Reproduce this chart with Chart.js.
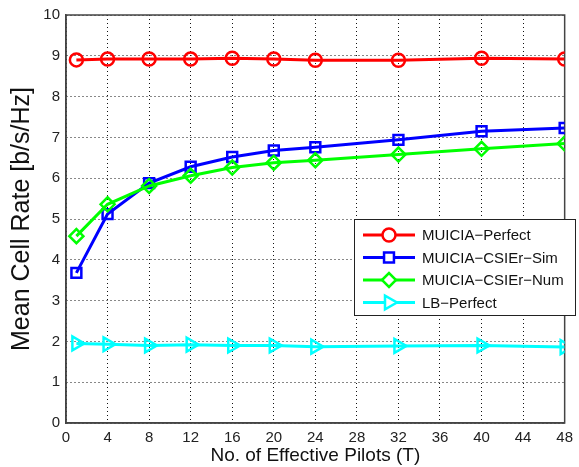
<!DOCTYPE html>
<html>
<head>
<meta charset="utf-8">
<script src="https://cdn.jsdelivr.net/npm/chart.js@4.4.1/dist/chart.umd.min.js"></script>
<style>
  html, body { margin: 0; padding: 0; background: #fff; }
  #wrap { width: 579px; height: 467px; }
</style>
</head>
<body>
<div id="wrap"><canvas id="myChart" width="579" height="467"></canvas></div>
<script>
const pilots = [1, 4, 8, 12, 16, 20, 24, 32, 40, 48];
const perfect = [8.9, 8.92, 8.92, 8.92, 8.94, 8.92, 8.89, 8.89, 8.94, 8.92];
const csiSim = [3.68, 5.12, 5.88, 6.28, 6.52, 6.68, 6.76, 6.94, 7.15, 7.23];
const csiNum = [4.58, 5.36, 5.81, 6.06, 6.26, 6.38, 6.44, 6.58, 6.72, 6.85];
const lbPerfect = [1.95, 1.93, 1.9, 1.92, 1.9, 1.9, 1.87, 1.89, 1.9, 1.86];
const xTicks = [0, 4, 8, 12, 16, 20, 24, 28, 32, 36, 40, 44, 48];

const seriesNames = ["MUICIA\u2212Perfect", "MUICIA\u2212CSIEr\u2212Sim", "MUICIA\u2212CSIEr\u2212Num", "LB\u2212Perfect"];
const seriesColors = ["#ff0000", "#0000ff", "#00ff00", "#00ffff"];
const seriesShapes = ["circle", "rect", "rectRot", "triangle"];
const seriesRot = [0, 0, 0, 90];
const seriesSize = [6.5, 7, 7, 8];
const seriesData = [perfect, csiSim, csiNum, lbPerfect];

const FONT = "'Liberation Sans', Arial, sans-serif";
const ctx = document.getElementById("myChart");

// full box round the plot (top + right edges)
const plotBox = {
  id: "plotBox",
  beforeDatasetsDraw(chart) {
    const a = chart.chartArea, c = chart.ctx;
    c.save();
    c.strokeStyle = "#444";
    c.lineWidth = 1.5;
    c.strokeRect(a.left, a.top, a.right - a.left, a.bottom - a.top);
    c.restore();
  }
};

// legend drawn inside the plot like the matlab figure
const boxLegend = {
  id: "boxLegend",
  afterDraw(chart) {
    const c = chart.ctx;
    const x0 = 354, y0 = 219, w = 221, h = 96;
    c.save();
    c.fillStyle = "#fff";
    c.fillRect(x0, y0, w, h);
    c.strokeStyle = "#222";
    c.lineWidth = 1;
    c.strokeRect(x0 + 0.5, y0 + 0.5, w, h);
    c.font = "15px " + FONT;
    c.textBaseline = "middle";
    for (let i = 0; i < seriesNames.length; i++) {
      const y = 235 + i * 22.5;
      c.strokeStyle = seriesColors[i];
      c.lineWidth = 3;
      c.beginPath();
      c.moveTo(363, y);
      c.lineTo(415, y);
      c.stroke();
      c.lineWidth = 2.5;
      c.fillStyle = "#fff";
      Chart.helpers.drawPoint(c, {pointStyle: seriesShapes[i], radius: seriesSize[i], rotation: seriesRot[i], borderWidth: 2.5}, 389, y);
      c.fillStyle = "#111";
      c.fillText(seriesNames[i], 422, y + 1);
    }
    c.restore();
  }
};

const datasets = seriesData.map((vals, i) => ({
  label: seriesNames[i],
  data: pilots.map((p, k) => ({x: p, y: vals[k]})),
  borderColor: seriesColors[i],
  backgroundColor: "rgba(255,255,255,0)",
  borderWidth: 3,
  pointStyle: seriesShapes[i],
  pointRotation: seriesRot[i],
  pointRadius: seriesSize[i],
  pointBorderWidth: 2.5,
  pointBorderColor: seriesColors[i],
  pointBackgroundColor: "rgba(255,255,255,0)",
  tension: 0,
  fill: false,
  order: 4 - i,
}));

const newChart = new Chart(ctx, {
  type: "line",
  data: { datasets: datasets },
  options: {
    responsive: false,
    animation: false,
    layout: { padding: { left: 0, right: 11, top: 13, bottom: 0 } },
    plugins: {
      legend: { display: false },
      tooltip: { enabled: false },
    },
    scales: {
      x: {
        type: "linear",
        min: 0,
        max: 48,
        afterBuildTicks: (s) => { s.ticks = xTicks.map(v => ({value: v})); },
        afterFit: (s) => { s.height = 44; },
        grid: { color: "#111", lineWidth: 1, drawTicks: false },
        border: { display: true, color: "#444", width: 1.5, dash: [1, 3] },
        ticks: {
          color: "#222",
          font: { family: FONT, size: 15 },
          padding: 6,
          maxRotation: 0,
        },
        title: {
          display: true,
          text: "No. of Effective Pilots (T)",
          color: "#111",
          font: { family: FONT, size: 19 },
          padding: { top: 0, bottom: 0 },
        },
      },
      y: {
        min: 0,
        max: 10,
        ticks: {
          stepSize: 1,
          color: "#222",
          font: { family: FONT, size: 15 },
          padding: 6,
        },
        afterFit: (s) => { s.width = 66; },
        grid: { color: "#111", lineWidth: 1, drawTicks: false },
        border: { display: true, color: "#444", width: 1.5, dash: [1, 3] },
        title: {
          display: true,
          text: "Mean Cell Rate [b/s/Hz]",
          color: "#111",
          font: { family: FONT, size: 25 },
          padding: { top: 7, bottom: 0 },
        },
      },
    },
  },
  plugins: [plotBox, boxLegend],
});
</script>
</body>
</html>
